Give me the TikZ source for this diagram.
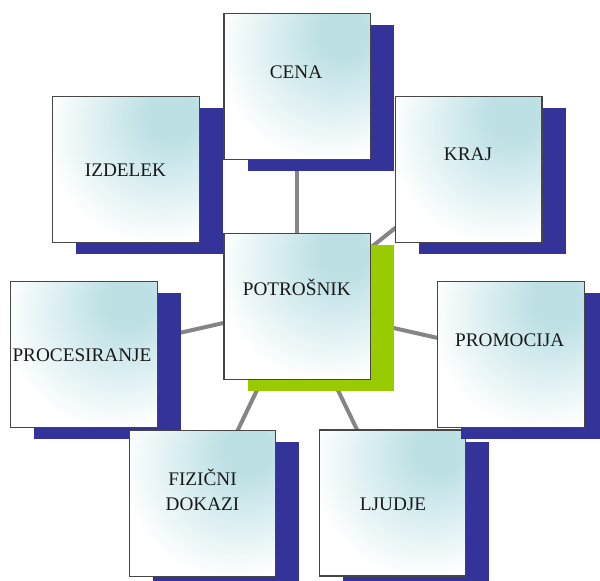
\documentclass[tikz,border=0pt]{standalone}
\usepackage{fontspec}
\setmainfont{Liberation Serif}
\usetikzlibrary{shadows,backgrounds}
\definecolor{glow}{RGB}{188,224,228}
\definecolor{navyshadow}{RGB}{51,51,153}
\definecolor{limeshadow}{RGB}{153,204,0}
\definecolor{conngray}{RGB}{133,133,133}
\definecolor{boxline}{RGB}{70,70,70}
\pgfdeclareradialshading{boxglow}{\pgfpoint{17bp}{20bp}}{color(0bp)=(glow); color(8bp)=(glow); color(38bp)=(white); color(100bp)=(white)}
\tikzset{
  card/.style={draw=boxline, line width=1.2bp, shading=boxglow,
    minimum width=146.5bp, minimum height=146bp, inner sep=0pt, outer sep=0pt,
    drop shadow={shadow xshift=23.7bp, shadow yshift=-11.7bp, fill=#1, draw=none, opacity=1}},
  card/.default=navyshadow,
  label/.style={anchor=base, inner sep=0pt, font=\fontsize{19.3}{25}\selectfont, align=center, text=black!90},
  conn/.style={draw=conngray, line width=4bp}
}
\begin{document}
\begin{tikzpicture}[x=1bp, y=-1bp]
\useasboundingbox (0,0) rectangle (600,581);
% boxes
\node[card] (izd) at (126,169.3) {};
\node[card] (cena) at (297.3,86.7) {};
\node[card] (kraj) at (468.8,169.2) {};
\node[card] (proc) at (84,354.5) {};
\node[card] (fiz) at (202.4,503.7) {};
\node[card] (ljud) at (392.5,502.9) {};
\node[card] (prom) at (511,354.5) {};
\node[card=limeshadow] (pot) at (297.3,306.3) {};
% labels
\node[label] (tizd) at (125.5,176.5) {IZDELEK};
\node[label] (tcena) at (296,79) {CENA};
\node[label] (tkraj) at (468,161) {KRAJ};
\node[label] (tproc) at (82,361.7) {PROCESIRANJE};
\node[label] (tfiz) at (202.5,510) {FIZIČNI\\DOKAZI};
\node[label] (tljud) at (393,510.7) {LJUDJE};
\node[label] (tprom) at (509.7,346.7) {PROMOCIJA};
\node[label] (tpot) at (296.8,295.7) {POTROŠNIK};
% connectors
\begin{pgfonlayer}{background}
\draw[conn] (pot.center) -- (izd.center);
\draw[conn] (pot.center) -- (cena.center);
\draw[conn] (pot.center) -- (kraj.center);
\draw[conn] (pot.center) -- (proc.center);
\draw[conn] (pot.center) -- (fiz.center);
\draw[conn] (pot.center) -- (ljud.center);
\draw[conn] (pot.center) -- (prom.center);
\end{pgfonlayer}
\end{tikzpicture}
\end{document}
